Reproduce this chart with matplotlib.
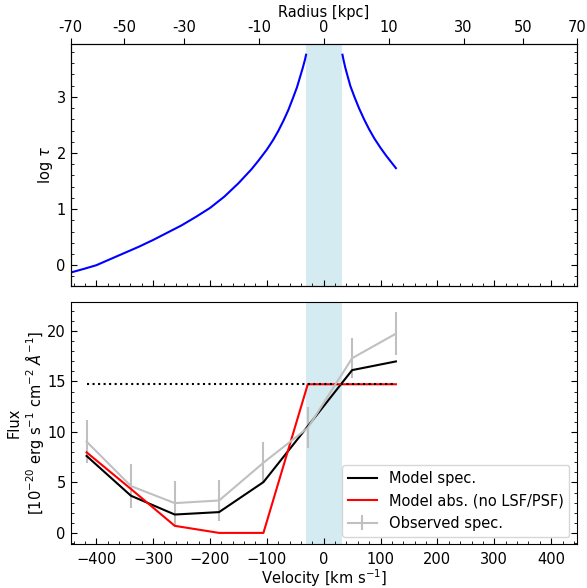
"""
Optical depth profile and absorption line fit
==============================================
Top: log optical depth against velocity (with radius on the top axis).
Bottom: observed spectrum against the model spectrum and the intrinsic
absorption model.
"""

import numpy as np
import matplotlib.pyplot as plt
from matplotlib.ticker import AutoMinorLocator

plt.rcParams['font.size'] = 10.5

# --- optical depth profile, two branches around the core
vel_tau_left = [-445, -420, -400, -375, -350, -325, -300, -275, -250, -225,
                -200, -175, -150, -127, -115, -100, -89, -80, -71, -62,
                -54, -47, -42, -37, -33, -31]
logtau_left = [-0.13, -0.06, 0.0, 0.11, 0.22, 0.33, 0.45, 0.58, 0.71, 0.86,
               1.02, 1.22, 1.46, 1.71, 1.86, 2.06, 2.23, 2.39, 2.57, 2.77,
               2.98, 3.17, 3.34, 3.51, 3.66, 3.75]
vel_tau_right = [33, 35, 38, 42, 47, 54, 62, 71, 80, 89, 100, 110, 120, 127]
logtau_right = [3.75, 3.65, 3.52, 3.37, 3.19, 3.00, 2.80, 2.60, 2.42, 2.26,
                2.09, 1.95, 1.82, 1.73]

# core region (shaded)
core_vel = [-31, 33]

# top axis: radius ticks and the velocities where they sit
radius_labels = ['-70', '-50', '-30', '-10', '0', '10', '30', '50', '70']
radius_tick_vel = [-445, -351, -246, -114, 0, 114, 246, 351, 445]

# --- spectrum
vel_spec = [-417, -339, -262, -184, -106, -28, 50, 127]
model_spec = [7.62, 3.68, 1.82, 2.06, 5.03, 10.56, 16.12, 16.98]
model_abs = [7.98, 4.35, 0.70, 0.0, 0.0, 14.72, 14.72, 14.72]
continuum = [14.70, 14.70, 14.70, 14.70, 14.70, 14.70, 14.70, 14.70]
obs_spec = [9.04, 4.64, 2.95, 3.21, 6.95, 10.40, 17.30, 19.73]
obs_err = [2.12, 2.15, 2.15, 2.07, 2.05, 2.02, 2.0, 2.1]


def style_axis(ax):
    """Inward ticks with minor ticks on left, right and bottom."""
    ax.xaxis.set_minor_locator(AutoMinorLocator())
    ax.yaxis.set_minor_locator(AutoMinorLocator())
    ax.tick_params(which='both', direction='in', top=False, right=True,
                   color='black')
    ax.tick_params(which='major', length=4)
    ax.tick_params(which='minor', length=2.2)


fig = plt.figure(figsize=(5.87, 5.88), dpi=100)
ax1 = fig.add_axes([0.1204, 0.5136, 0.8621, 0.4124])
ax2 = fig.add_axes([0.1204, 0.0748, 0.8621, 0.4122], sharex=ax1)

# Top panel: optical depth
ax1.axvspan(core_vel[0], core_vel[1], color='lightblue', alpha=0.5, lw=0)
ax1.plot(vel_tau_left, logtau_left, color='blue', lw=1.5)
ax1.plot(vel_tau_right, logtau_right, color='blue', lw=1.5)
ax1.set_xlim(-445, 445)
ax1.set_ylim(-0.37, 3.95)
ax1.set_yticks([0, 1, 2, 3])
ax1.set_ylabel(r'$\log\,\tau$', labelpad=1)
style_axis(ax1)
ax1.tick_params(labelbottom=False)

# Radius on the top axis
ax_top = ax1.twiny()
ax_top.set_xlim(ax1.get_xlim())
ax_top.set_xticks(radius_tick_vel)
ax_top.set_xticklabels(radius_labels)
ax_top.tick_params(which='major', direction='out', length=4, pad=2)
ax_top.set_xlabel('Radius [kpc]', labelpad=2)

# Bottom panel: spectrum
ax2.axvspan(core_vel[0], core_vel[1], color='lightblue', alpha=0.5, lw=0)
eb = ax2.errorbar(vel_spec, obs_spec, yerr=obs_err, color='silver', lw=1.5,
                  elinewidth=1.5, capsize=0, label='Observed spec.')
l1, = ax2.plot(vel_spec, model_spec, color='black', lw=1.5,
               label='Model spec.')
l2, = ax2.plot(vel_spec, model_abs, color='red', lw=1.5,
               label='Model abs. (no LSF/PSF)')
ax2.plot(vel_spec, continuum, color='black', ls=':', lw=1.5)
ax2.set_ylim(-1.1, 22.9)
ax2.set_yticks([0, 5, 10, 15, 20])
ax2.set_xticks([-400, -300, -200, -100, 0, 100, 200, 300, 400])
ax2.set_xlabel(r'Velocity [km s$^{-1}$]')
ax2.xaxis.set_label_coords(0.5, -0.095)
ax2.set_ylabel('Flux\n' + r'[$10^{-20}$ erg s$^{-1}$ cm$^{-2}$ $\AA^{-1}$]',
               linespacing=1.05, labelpad=1)
style_axis(ax2)
ax2.tick_params(axis='x', which='major', pad=6)
ax2.legend(handles=[l1, l2, eb], loc='lower right')

plt.savefig('out.png', dpi=100)
